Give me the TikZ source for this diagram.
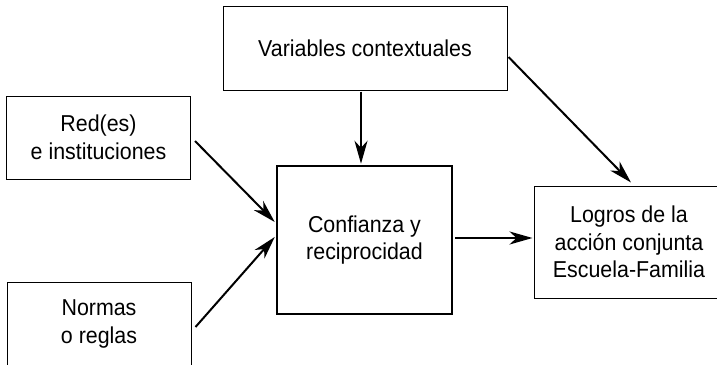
\documentclass[tikz,border=0pt]{standalone}
\usepackage{fontspec}
\setmainfont[FakeStretch=0.93]{Liberation Sans}
\usetikzlibrary{arrows.meta,calc}
\begin{document}
\begin{tikzpicture}[x=1pt,y=-1pt,
  box/.style={draw,line width=1pt,inner sep=0pt,align=center,
    font=\fontsize{23pt}{27.5pt}\selectfont},
  mainbox/.style={box,line width=2.5pt},
  conn/.style={line width=2pt,-{Stealth[length=23pt,width=13pt,inset=7pt]}}]
\useasboundingbox (0,0) rectangle (717,364);
\node[box,minimum width=284pt,minimum height=84pt] (var) at (365,48) {Variables contextuales};
\node[box,minimum width=184pt,minimum height=83pt] (red) at (98.5,137.5) {Red(es)\\e instituciones};
\node[box,minimum width=184pt,minimum height=84pt] (norm) at (99,324) {Normas\\o reglas};
\node[mainbox,minimum width=175pt,minimum height=148pt] (conf) at (364.5,240) {Confianza y\\reciprocidad};
\node[box,minimum width=190pt,minimum height=112pt] (log) at (629,242) {Logros de la\\acción conjunta\\Escuela-Familia};
\draw[conn] ($(red.east)+(4,3.5)$) -- ($(conf.west)+(-1,-18)$);
\draw[conn] ($(norm.east)+(4,3)$) -- ($(conf.west)+(-1,-3)$);
\draw[conn] ($(var.south)+(-4,1)$) -- ($(conf.north)+(-3.5,-1)$);
\draw[conn] ($(var.east)+(1,9)$) -- ($(log.north)+(2,-3)$);
\draw[conn] ($(conf.east)+(2,-2)$) -- ($(log.west)+(-1,-4)$);
\end{tikzpicture}
\end{document}
